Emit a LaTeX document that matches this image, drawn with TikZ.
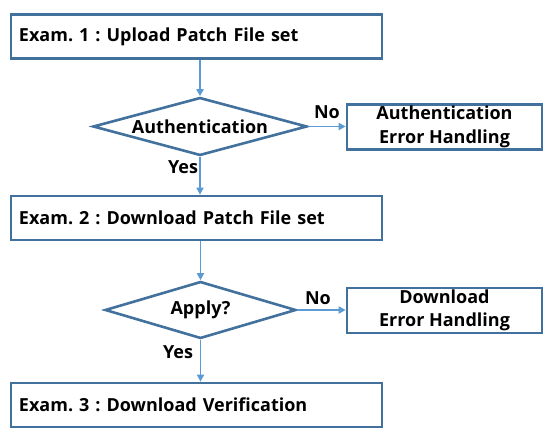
\documentclass[tikz,border=0pt]{standalone}
\usepackage{fontspec}
\setmainfont{Open Sans}
\frenchspacing
\usetikzlibrary{shapes.geometric,arrows.meta}
\definecolor{boxblue}{HTML}{41719C}
\definecolor{arrblue}{HTML}{5B9BD5}
\tikzset{
  every node/.style={font=\bfseries\fontsize{18}{23.5}\selectfont, text=black},
  mainbox/.style={draw=boxblue, line width=2.6pt, rectangle, minimum width=371pt, minimum height=44pt, text width=355pt, align=left, inner xsep=8pt, inner ysep=0pt},
  errbox/.style={draw=boxblue, line width=2.6pt, rectangle, minimum width=195pt, minimum height=45pt, align=center, inner sep=0pt},
  decision/.style={draw=boxblue, line width=2.6pt, diamond, inner sep=0pt},
  flow/.style={draw=arrblue, line width=1.8pt, -{Triangle[length=7pt,width=7pt]}},
  lbl/.style={inner sep=0pt}
}
\begin{document}
\begin{tikzpicture}[x=1pt,y=-1pt]
\useasboundingbox (0,0) rectangle (554,441);
\node[mainbox] (b1) at (196.5,36.5) {Exam. 1 : Upload Patch File set};
\node[decision, aspect=3.66, minimum width=214pt, minimum height=58pt] (d1) at (200,126.5) {Authentication};
\node[errbox] (e1) at (444.5,127) {Authentication\\Error Handling};
\node[mainbox] (b2) at (196.5,218) {Exam. 2 : Download Patch File set};
\node[decision, aspect=3.33, minimum width=191pt, minimum height=57pt] (d2) at (200.5,310) {Apply?};
\node[errbox] (e2) at (444.5,310.5) {Download\\Error Handling};
\node[mainbox] (b3) at (196.5,405) {Exam. 3 : Download Verification};

\draw[flow] (b1.south -| d1.north) -- (d1.north);
\draw[flow] (d1.east) -- (e1.west |- d1.east);
\draw[flow] (d1.south) -- (d1.south |- b2.north);
\draw[flow] (b2.south -| d2.north) -- (d2.north);
\draw[flow] (d2.east) -- (e2.west |- d2.east);
\draw[flow] (d2.south) -- (d2.south |- b3.north);

\node[lbl] (n1) at (327,112) {No};
\node[lbl] (y1) at (183,167) {Yes};
\node[lbl] (n2) at (318,298) {No};
\node[lbl] (y2) at (178,352) {Yes};
\end{tikzpicture}
\end{document}
